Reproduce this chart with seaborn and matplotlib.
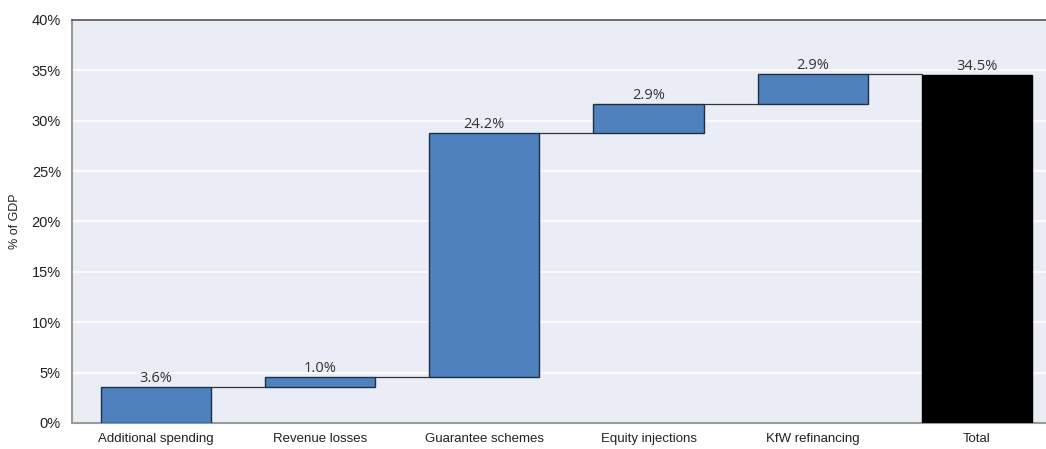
import numpy as np
import pandas as pd
import seaborn as sns
import matplotlib.pyplot as plt
from matplotlib.ticker import FuncFormatter

categories = ["Additional spending", "Revenue losses", "Guarantee schemes",
              "Equity injections", "KfW refinancing", "Total"]
steps = [3.6, 1.0, 24.2, 2.9, 2.9]
total = 34.5
labels = ["3.6%", "1.0%", "24.2%", "2.9%", "2.9%", "34.5%"]

# waterfall: each step starts where the previous one ended
tops = np.cumsum(steps)
bottoms = list(tops - np.array(steps)) + [0.0]
heights = list(steps) + [total]
df = pd.DataFrame({"cat": categories, "bottom": bottoms, "height": heights})

sns.set_style("white")
plt.rcParams['font.family'] = ['Liberation Sans', 'DejaVu Sans']

fig = plt.figure(figsize=(10.46, 4.49), dpi=100)
ax = fig.add_axes([72 / 1046, 26 / 449, 974 / 1046, 403 / 449])
ax.set_facecolor("#eaedf5")

colors = ["#4f81bd"] * 5 + ["#000000"]
edges = ["#1f2f45"] * 5 + ["#000000"]
bw = 0.67
for i in range(len(df)):
    sns.barplot(data=df.iloc[[i]], x="cat", y="height", order=categories,
                bottom=df["bottom"].iloc[i], color=colors[i], width=bw,
                saturation=1, edgecolor=edges[i], linewidth=1.0, ax=ax,
                zorder=3)

# connector lines between bars
w = bw / 2
for i in range(5):
    ax.plot([i + w, i + 1 - w], [tops[i], tops[i]], color="#333333",
            lw=0.9, zorder=2)

for i, (b, h) in enumerate(zip(bottoms, heights)):
    ax.text(i, b + h + 0.1, labels[i], ha="center", va="bottom", fontsize=10.5,
            color="#333333", family=["Open Sans", "DejaVu Sans"])

ax.set_xlim(-0.51, 5.42)
ax.set_ylim(0, 40)
ax.set_yticks(np.arange(0, 41, 5))
ax.yaxis.set_major_formatter(FuncFormatter(lambda v, p: f"{v:.0f}%"))
ax.grid(axis="y", color="white", lw=1.2, zorder=0)
ax.set_axisbelow(True)
ax.tick_params(axis="x", length=0, labelsize=9.5, colors="#222222", pad=7)
ax.tick_params(axis="y", length=0, labelsize=10.5, colors="#222222", pad=8)
ax.set_xlabel("")
ax.set_ylabel("% of GDP", fontsize=9, color="#222222", labelpad=8)

for s in ["left", "bottom"]:
    ax.spines[s].set_color("#9a9a9a")
    ax.spines[s].set_linewidth(1.5)
ax.spines["top"].set_color("#555555")
ax.spines["top"].set_linewidth(1.2)
ax.spines["right"].set_visible(False)

fig.savefig("out.png", dpi=100)
